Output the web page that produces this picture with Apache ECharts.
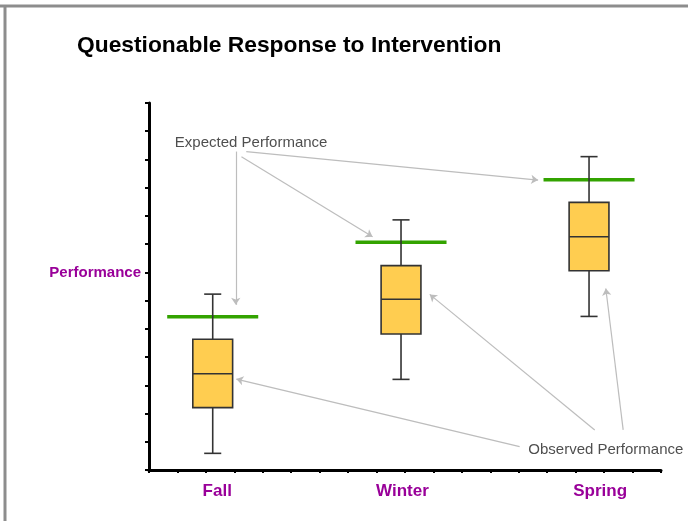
<!DOCTYPE html>
<html lang="en">
<head>
    <meta charset="UTF-8">
    <title>Questionable Response to Intervention</title>
    <script src="https://cdn.jsdelivr.net/npm/echarts@6/dist/echarts.min.js"></script>
    <style>
        body { margin: 0; background: #fff; }
    </style>
</head>
<body>
<div style="width: 688px; height: 521px" id="rti-chart"></div>

<script type="text/javascript">
    // seasons and where they sit on the (unlabelled) x scale
    var seasons = ['Fall', 'Winter', 'Spring'];
    var seasonX = [2.24, 8.86, 15.47];
    var seasonLabelX = [2.40, 8.91, 15.86];

    // observed performance (box plot)
    var boxMin = [0.59, 3.21, 5.44];
    var boxQ1 = [2.21, 4.82, 7.06];
    var boxMedian = [3.41, 6.05, 8.26];
    var boxQ3 = [4.63, 7.24, 9.48];
    var boxMax = [6.23, 8.86, 11.10];

    // expected performance (green bars)
    var expected = [5.43, 8.07, 10.28];

    // callout texts and their arrows ([from, to] in chart units)
    var notes = [
        [3.59, 11.59, 'Expected Performance'],
        [16.06, 0.71, 'Observed Performance']
    ];
    var arrows = [
        [[3.05, 11.28], [3.05, 5.85]],
        [[3.25, 11.10], [7.86, 8.26]],
        [[3.42, 11.28], [13.68, 10.27]],
        [[13.03, 0.83], [3.07, 3.22]],
        [[15.67, 1.42], [9.87, 6.22]],
        [[16.67, 1.42], [16.06, 6.43]]
    ];

    var purple = '#990099';
    var font = '"Liberation Sans", Arial, sans-serif';
    var boxHalf = 0.7, capHalf = 0.3, expHalf = 1.6;

    var boxData = seasons.map(function (s, i) {
        return [seasonX[i], boxMin[i], boxQ1[i], boxMedian[i], boxQ3[i], boxMax[i]];
    });
    var expData = seasons.map(function (s, i) {
        return [seasonX[i], expected[i]];
    });

    function renderBox(params, api) {
        var x = api.value(0);
        var cMin = api.coord([x, api.value(1)]);
        var cQ1 = api.coord([x, api.value(2)]);
        var cMed = api.coord([x, api.value(3)]);
        var cQ3 = api.coord([x, api.value(4)]);
        var cMax = api.coord([x, api.value(5)]);
        var bl = api.coord([x - boxHalf, 0])[0];
        var br = api.coord([x + boxHalf, 0])[0];
        var cl = api.coord([x - capHalf, 0])[0];
        var cr = api.coord([x + capHalf, 0])[0];
        var line = { stroke: '#333', lineWidth: 1.6 };
        return {
            type: 'group',
            children: [
                { type: 'line', shape: { x1: cMin[0], y1: cMin[1], x2: cQ1[0], y2: cQ1[1] }, style: line },
                { type: 'line', shape: { x1: cQ3[0], y1: cQ3[1], x2: cMax[0], y2: cMax[1] }, style: line },
                { type: 'line', shape: { x1: cl, y1: cMin[1], x2: cr, y2: cMin[1] }, style: line },
                { type: 'line', shape: { x1: cl, y1: cMax[1], x2: cr, y2: cMax[1] }, style: line },
                {
                    type: 'rect',
                    shape: { x: bl, y: cQ3[1], width: br - bl, height: cQ1[1] - cQ3[1] },
                    style: { fill: '#ffcd50', stroke: '#333', lineWidth: 1.6 }
                },
                { type: 'line', shape: { x1: bl, y1: cMed[1], x2: br, y2: cMed[1] }, style: line }
            ]
        };
    }

    function renderExpected(params, api) {
        var x = api.value(0);
        var a = api.coord([x - expHalf, api.value(1)]);
        var b = api.coord([x + expHalf, api.value(1)]);
        return {
            type: 'line',
            shape: { x1: a[0], y1: a[1], x2: b[0], y2: b[1] },
            style: { stroke: '#33a300', lineWidth: 3.5 }
        };
    }

    var myChart = echarts.init(document.getElementById('rti-chart'));
    var option = {
        animation: false,
        backgroundColor: '#fff',
        textStyle: { fontFamily: font },
        title: {
            text: 'Questionable Response to Intervention',
            left: 77,
            top: 34,
            padding: 0,
            textStyle: { fontSize: 22.8, fontWeight: 'bold', color: '#000', fontFamily: font }
        },
        graphic: [
            { type: 'line', shape: { x1: 0, y1: 6, x2: 688, y2: 6 }, style: { stroke: '#8d8d8d', lineWidth: 3 } },
            { type: 'line', shape: { x1: 5, y1: 6, x2: 5, y2: 521 }, style: { stroke: '#8d8d8d', lineWidth: 3 } }
        ],
        grid: { left: 149, right: 27, top: 103, bottom: 51 },
        xAxis: {
            type: 'value',
            min: 0,
            max: 18,
            interval: 1,
            splitLine: { show: false },
            axisLine: { lineStyle: { color: '#000', width: 3 } },
            axisTick: { show: true, length: 3, lineStyle: { color: '#000', width: 2 } },
            axisLabel: {
                customValues: seasonLabelX,
                margin: 13,
                color: purple,
                fontSize: 17,
                fontWeight: 'bold',
                fontFamily: font,
                formatter: function (v) {
                    var i = seasonLabelX.indexOf(v);
                    return i < 0 ? '' : seasons[i];
                }
            }
        },
        yAxis: {
            type: 'value',
            min: 0,
            max: 13,
            interval: 1,
            splitLine: { show: false },
            axisLine: { lineStyle: { color: '#000', width: 3 } },
            axisTick: { show: true, length: 4, lineStyle: { color: '#000', width: 2 } },
            axisLabel: {
                customValues: [7],
                margin: 8,
                color: purple,
                fontSize: 15,
                fontWeight: 'bold',
                fontFamily: font,
                formatter: function () { return 'Performance'; }
            }
        },
        series: [
            {
                name: 'Expected Performance',
                type: 'custom',
                renderItem: renderExpected,
                data: expData,
                silent: true,
                z: 2
            },
            {
                name: 'Observed Performance',
                type: 'custom',
                renderItem: renderBox,
                data: boxData,
                silent: true,
                z: 3
            },
            {
                name: 'notes',
                type: 'scatter',
                symbolSize: 0,
                silent: true,
                z: 4,
                data: notes,
                label: {
                    show: true,
                    position: 'inside',
                    color: '#222',
                    fontSize: 15,
                    fontFamily: font,
                    formatter: function (p) { return p.value[2]; }
                },
                markLine: {
                    silent: true,
                    symbol: ['none', 'arrow'],
                    symbolSize: 7,
                    label: { show: false },
                    lineStyle: { color: '#bdbdbd', width: 1.2, type: 'solid', opacity: 1 },
                    data: arrows.map(function (a) {
                        return [{ coord: a[0] }, { coord: a[1] }];
                    })
                }
            }
        ]
    };

    myChart.setOption(option);
</script>
</body>
</html>
